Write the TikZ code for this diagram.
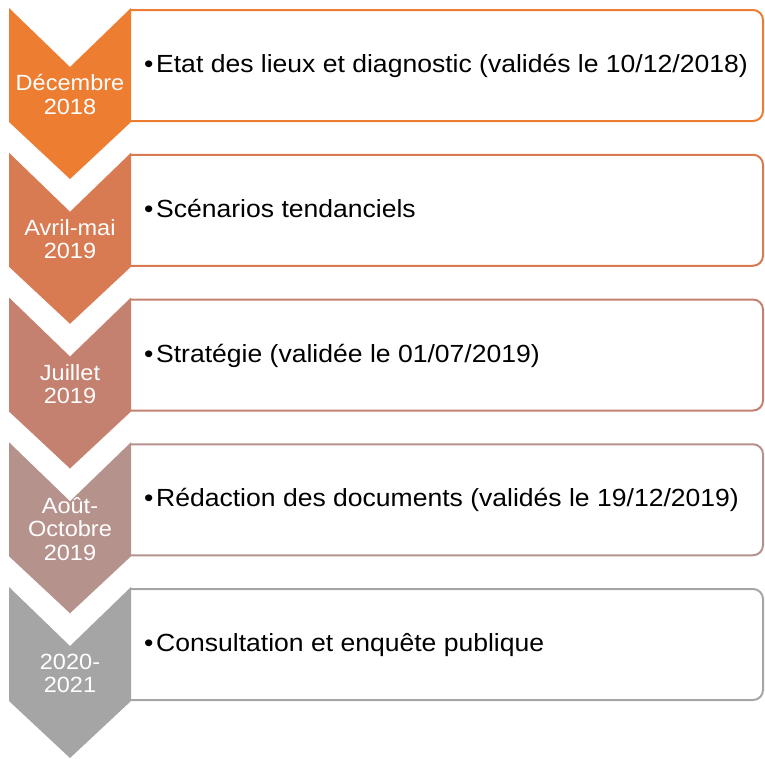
\documentclass[tikz,border=0pt]{standalone}
\usepackage{fontspec}
\setmainfont[FakeStretch=1.07]{Liberation Sans}
\definecolor{c1}{HTML}{ED7D31}
\definecolor{c2}{HTML}{D87A52}
\definecolor{c3}{HTML}{C48170}
\definecolor{c4}{HTML}{B6928D}
\definecolor{c5}{HTML}{A5A5A5}
\newcommand\mystage[5]{%
  \draw[boxline, draw=#2] (130,#1+2) -- (763,#1+2) -- (763,#1+113) -- (130,#1+113);
  \fill[#2] (9,#1) -- (70,#1+59) -- (131,#1) -- (131,#1+114) -- (70,#1+171) -- (9,#1+114) -- cycle;
  \node[chevtext] (lab#5) at (70,#1+86.5) {#3};
  \node[boxtext] (txt#5) at (144,#1+64.5) {\textbullet\hspace{2.7pt}#4};
}
\begin{document}
\begin{tikzpicture}[x=1pt,y=-1pt,
  chevtext/.style={text=white, align=center, font=\fontsize{22}{23.5}\selectfont, inner sep=0pt},
  boxtext/.style={anchor=base west, font=\fontsize{24.8}{28}\selectfont, inner sep=0pt, text=black},
  boxline/.style={line width=2pt, rounded corners=10pt}]
\useasboundingbox (0,0) rectangle (765,758);
\mystage{8}{c1}{Décembre\\2018}{Etat des lieux et diagnostic (validés le 10/12/2018)}{a}
\mystage{152.75}{c2}{Avril-mai\\2019}{Scénarios tendanciels}{b}
\mystage{297.5}{c3}{Juillet\\2019}{Stratégie (validée le 01/07/2019)}{c}
\mystage{442.25}{c4}{Août-\\Octobre\\2019}{Rédaction des documents (validés le 19/12/2019)}{d}
\mystage{587}{c5}{2020-\\2021}{Consultation et enquête publique}{e}
\end{tikzpicture}
\end{document}
